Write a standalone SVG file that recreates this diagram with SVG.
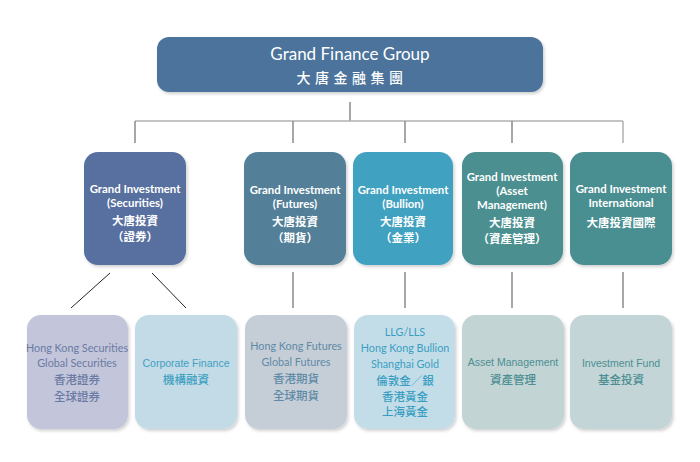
<svg xmlns="http://www.w3.org/2000/svg" width="700" height="462" viewBox="0 0 700 462">
<defs>
<filter id="sh" x="-10%" y="-10%" width="125%" height="125%">
<feDropShadow dx="1.5" dy="2" stdDeviation="1.5" flood-color="#000" flood-opacity="0.18"/>
</filter>
<style>
.box{filter:url(#sh);}
.w{fill:#fff;font-family:Lato,"Noto Sans CJK TC",sans-serif;font-weight:bold;font-size:11.4px;text-anchor:middle;}
.wc{fill:#fff;font-family:"Noto Sans CJK TC",sans-serif;font-weight:bold;font-size:11.5px;text-anchor:middle;}
.t{font-family:Lato,"Noto Sans CJK TC",sans-serif;font-size:10.8px;text-anchor:middle;}
.tc{font-family:"Noto Sans CJK TC",sans-serif;font-size:11.5px;font-weight:500;text-anchor:middle;}
.a{font-family:"Liberation Sans","Noto Sans CJK TC",sans-serif;font-size:10.5px;text-anchor:middle;}
.ln{stroke:#8a8a8a;stroke-width:1.5;fill:none;}
.hl{stroke:#b0b0b0;stroke-width:1.5;fill:none;}
.dl{stroke:#222;stroke-width:1;fill:none;}
</style>
</defs>
<rect width="700" height="462" fill="#fff"/>

<g id="connectors">
<line class="ln" x1="350" y1="102" x2="350" y2="121"/>
<line class="hl" x1="135" y1="121" x2="623" y2="121"/>
<line class="ln" x1="135" y1="121" x2="135" y2="143"/>
<line class="ln" x1="293" y1="121" x2="293" y2="143"/>
<line class="ln" x1="405" y1="121" x2="405" y2="143"/>
<line class="ln" x1="512" y1="121" x2="512" y2="143"/>
<line class="hl" x1="623" y1="121" x2="623" y2="143"/>
<line class="dl" x1="110" y1="273" x2="71" y2="308"/>
<line class="dl" x1="152" y1="273" x2="186" y2="308"/>
<line class="ln" x1="293" y1="272" x2="293" y2="308"/>
<line class="ln" x1="405" y1="272" x2="405" y2="308"/>
<line class="ln" x1="512" y1="272" x2="512" y2="308"/>
<line class="ln" x1="623" y1="272" x2="623" y2="308"/>
</g>

<g id="group">
<rect class="box" x="157" y="37" width="386" height="55" rx="12" fill="#4c739b"/>
<text x="350" y="60" fill="#fff" font-family="Lato,sans-serif" font-size="17" text-anchor="middle">Grand Finance Group</text>
<text x="352" y="83" fill="#fff" font-family="'Noto Sans CJK TC',sans-serif" font-size="14" font-weight="500" letter-spacing="4.5" text-anchor="middle">大唐金融集團</text>
</g>

<g id="securities">
<rect class="box" x="84" y="152" width="102" height="113" rx="14" fill="#586f9f"/>
<text class="w" x="135" y="193">Grand Investment</text>
<text class="w" x="135" y="207">(Securities)</text>
<text class="wc" x="135" y="225">大唐投資</text>
<text class="wc" x="135" y="241">（證券）</text>
</g>

<g id="futures">
<rect class="box" x="244" y="152" width="102" height="113" rx="14" fill="#527f99"/>
<text class="w" x="295" y="194">Grand Investment</text>
<text class="w" x="295" y="208">(Futures)</text>
<text class="wc" x="295" y="226">大唐投資</text>
<text class="wc" x="295" y="242">（期貨）</text>
</g>

<g id="bullion">
<rect class="box" x="353" y="152" width="100" height="113" rx="14" fill="#40a1c0"/>
<text class="w" x="403" y="194">Grand Investment</text>
<text class="w" x="403" y="208">(Bullion)</text>
<text class="wc" x="403" y="226">大唐投資</text>
<text class="wc" x="403" y="242">（金業）</text>
</g>

<g id="asset">
<rect class="box" x="462" y="152" width="101" height="113" rx="14" fill="#4b8f90"/>
<text class="w" x="512" y="181">Grand Investment</text>
<text class="w" x="512" y="195">(Asset</text>
<text class="w" x="512" y="209">Management)</text>
<text class="wc" x="512" y="227">大唐投資</text>
<text class="wc" x="512" y="243">（資產管理）</text>
</g>

<g id="international">
<rect class="box" x="570" y="152" width="102" height="113" rx="14" fill="#4a8e90"/>
<text class="w" x="621" y="193">Grand Investment</text>
<text class="w" x="621" y="207">International</text>
<text class="wc" x="621" y="227">大唐投資國際</text>
</g>

<g id="hk-securities">
<rect class="box" x="27" y="315" width="101" height="114" rx="14" fill="#c3c6da"/>
<text class="t" x="77" y="352" fill="#6a7aa3">Hong Kong Securities</text>
<text class="t" x="77" y="367" fill="#6a7aa3">Global Securities</text>
<text class="tc" x="77" y="384" fill="#6a7aa3">香港證券</text>
<text class="tc" x="77" y="401" fill="#6a7aa3">全球證券</text>
</g>

<g id="corporate-finance">
<rect class="box" x="135" y="315" width="102" height="114" rx="14" fill="#c2dbe6"/>
<text class="a" x="186" y="367" fill="#3ea0c2">Corporate Finance</text>
<text class="tc" x="186" y="384" fill="#3ea0c2">機構融資</text>
</g>

<g id="hk-futures">
<rect class="box" x="245" y="315" width="102" height="114" rx="14" fill="#c5ced7"/>
<text class="t" x="296" y="350" fill="#5f8aa6">Hong Kong Futures</text>
<text class="t" x="296" y="366" fill="#5f8aa6">Global Futures</text>
<text class="tc" x="296" y="383" fill="#5f8aa6">香港期貨</text>
<text class="tc" x="296" y="400" fill="#5f8aa6">全球期貨</text>
</g>

<g id="bullion-sub">
<rect class="box" x="354" y="315" width="101" height="114" rx="14" fill="#c3dde8"/>
<text class="t" x="405" y="336" fill="#3a9dc2">LLG/LLS</text>
<text class="t" x="405" y="352" fill="#3a9dc2">Hong Kong Bullion</text>
<text class="t" x="405" y="368" fill="#3a9dc2">Shanghai Gold</text>
<text class="tc" x="405" y="385" fill="#3a9dc2">倫敦金／銀</text>
<text class="tc" x="405" y="401" fill="#3a9dc2">香港黃金</text>
<text class="tc" x="405" y="416" fill="#3a9dc2">上海黃金</text>
</g>

<g id="asset-management">
<rect class="box" x="462" y="315" width="102" height="114" rx="14" fill="#c3d4d5"/>
<text class="a" x="513" y="366" fill="#4b8f92">Asset Management</text>
<text class="tc" x="513" y="384" fill="#4b8f92">資產管理</text>
</g>

<g id="investment-fund">
<rect class="box" x="570" y="315" width="102" height="114" rx="14" fill="#c3d5d6"/>
<text class="a" x="621" y="367" fill="#4b8f92">Investment Fund</text>
<text class="tc" x="621" y="384" fill="#4b8f92">基金投資</text>
</g>
</svg>
